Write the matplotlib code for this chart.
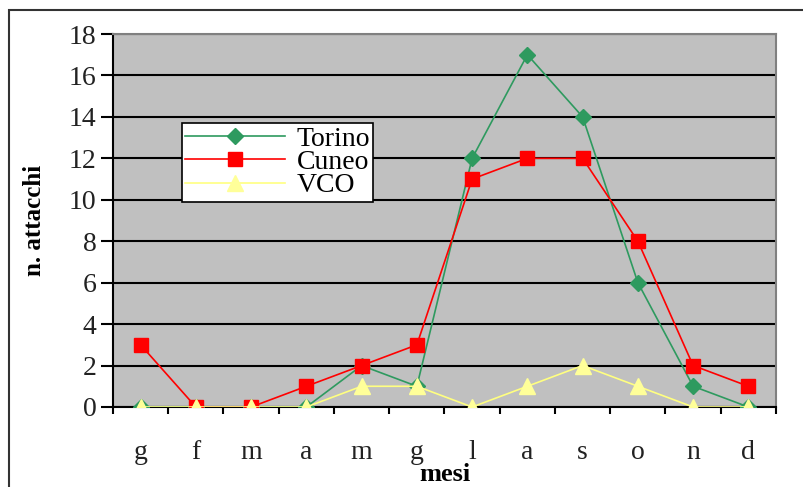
#!/usr/bin/env python3
import numpy as np

import matplotlib
matplotlib.use("Agg")
import matplotlib.pyplot as plt
from matplotlib.patches import Rectangle

mesi = ["g", "f", "m", "a", "m", "g", "l", "a", "s", "o", "n", "d"]
torino = [0, 0, 0, 0, 2, 1, 12, 17, 14, 6, 1, 0]
cuneo = [3, 0, 0, 1, 2, 3, 11, 12, 12, 8, 2, 1]
vco = [0, 0, 0, 0, 1, 1, 0, 1, 2, 1, 0, 0]

plt.rcParams["font.family"] = ["Liberation Serif", "DejaVu Serif"]

W, H = 804, 487
fig = plt.figure(figsize=(W / 100, H / 100), dpi=100)
ax = fig.add_axes([113 / W, 1 - 407 / H, (776 - 113) / W, (407 - 34) / H])

# outer frame of the chart object
fig.patches.append(Rectangle((9 / W, -0.1), 1.2, 1 - 10 / H + 0.1, transform=fig.transFigure,
                             fill=False, edgecolor="#333333", linewidth=1.5))

ax.set_facecolor("#c0c0c0")
x = np.arange(len(mesi))

ax.plot(x, torino, color="#2e9a5f", lw=1.2, marker="D", ms=8, mfc="#2e9a5f", mec="#2e9a5f",
        label="Torino", zorder=3)
ax.plot(x, cuneo, color="#ff0000", lw=1.2, marker="s", ms=10, mfc="#ff0000", mec="#ff0000",
        label="Cuneo", zorder=4)
ax.plot(x, vco, color="#ffff80", lw=1.2, marker="^", ms=12, mfc="#ffff99", mec="#ffff99",
        label="VCO", zorder=5)

ax.set_xlim(-0.5, len(mesi) - 0.5)
ax.set_ylim(0, 18)
ax.set_yticks(range(0, 19, 2))
ax.yaxis.grid(True, color="black", lw=1.5)
ax.set_axisbelow(True)

# ticks between the months, labels centred on them
ax.set_xticks(np.arange(-0.5, len(mesi), 1.0))
ax.set_xticklabels([])
ax.set_xticks(x, minor=True)
ax.set_xticklabels(mesi, minor=True)
ax.tick_params(axis="x", which="major", direction="out", length=5, width=1.5)
ax.tick_params(axis="x", which="minor", length=0, pad=24, labelsize=20, labelcolor="#222222")
ax.tick_params(axis="y", direction="out", length=9, width=1.5, labelsize=20, pad=3,
               labelcolor="#222222")

for side in ("left", "bottom"):
    ax.spines[side].set_color("black")
    ax.spines[side].set_linewidth(1.5)
for side in ("top", "right"):
    ax.spines[side].set_color("#808080")
    ax.spines[side].set_linewidth(1.5)

ax.set_xlabel("mesi", fontsize=19, fontweight="bold", labelpad=-2)
ax.set_ylabel("n. attacchi", fontsize=18, fontweight="bold", labelpad=16)

leg = ax.legend(loc="upper left",
                bbox_to_anchor=((182 - 113) / (776 - 113), (407 - 123) / (407 - 34)),
                frameon=True, fancybox=False, framealpha=1, edgecolor="black", fontsize=20,
                handlelength=3.6, borderpad=0.12, labelspacing=-0.08, handletextpad=0.4,
                borderaxespad=0)
leg.get_frame().set_linewidth(1.2)

fig.savefig("out.png", dpi=100)
